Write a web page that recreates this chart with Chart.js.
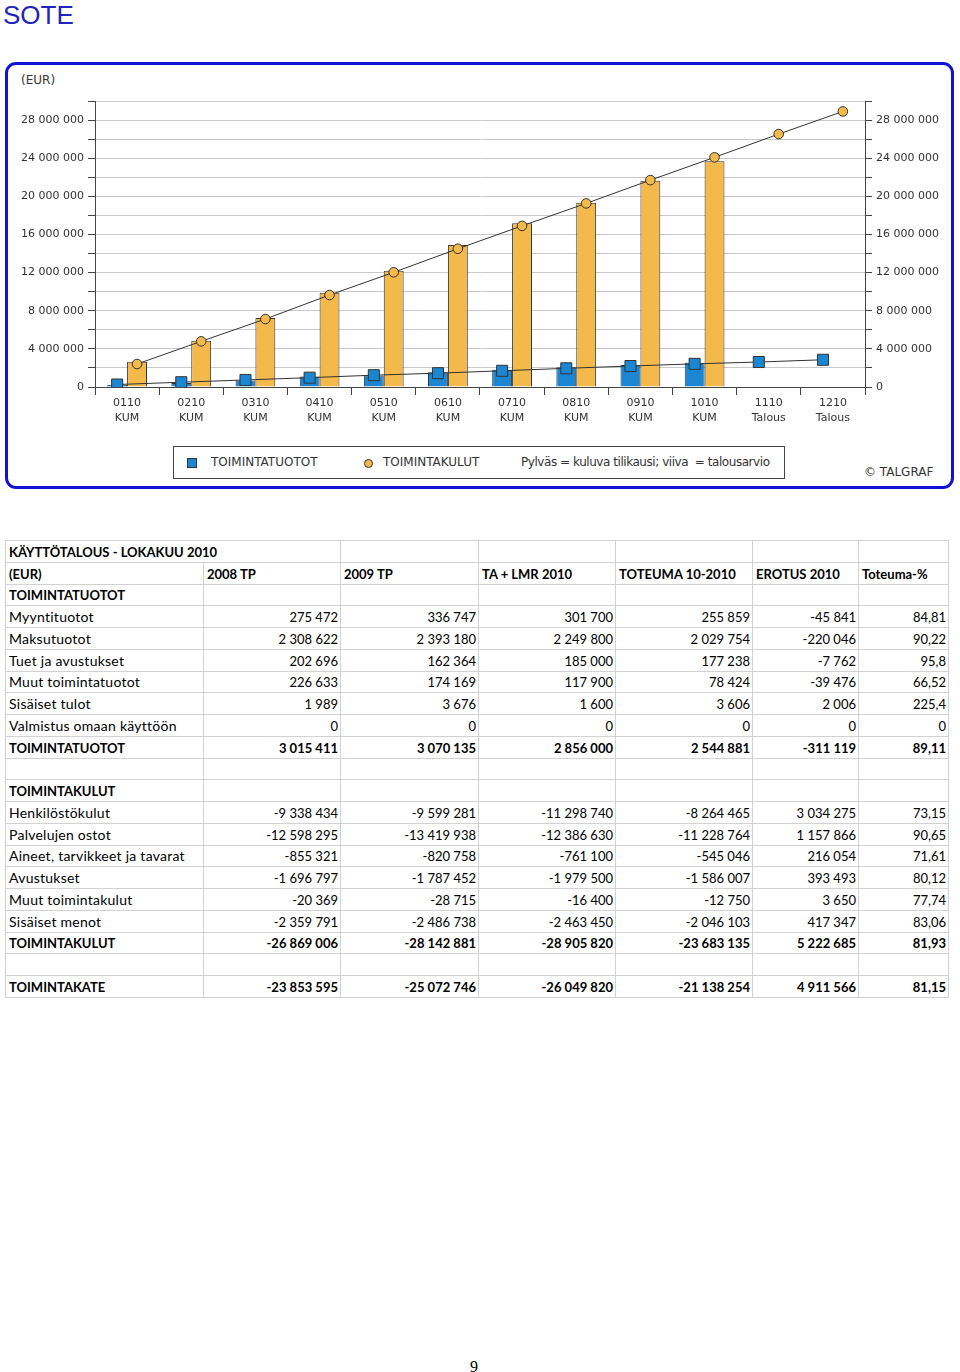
<!DOCTYPE html>
<html>
<head>
<meta charset="utf-8">
<script src="https://cdn.jsdelivr.net/npm/chart.js@4.4.0/dist/chart.umd.min.js"></script>
<style>
  body { margin:0; background:#fff; width:960px; height:1372px; position:relative; overflow:hidden; font-family:"DejaVu Sans", sans-serif; }
  #title { position:absolute; left:3px; top:0px; font:26px "Liberation Sans", Arial, sans-serif; color:#2323bd; }
  #frame { position:absolute; left:5px; top:62px; width:949px; height:427px; border:3px solid #1212d2; border-radius:11px; box-sizing:border-box; }
  #eur { position:absolute; left:21px; top:73px; font-size:12px; color:#333; }
  #wrap { position:absolute; left:0; top:90px; width:960px; height:340px; }
  #legend { position:absolute; left:173px; top:446px; width:612px; height:33px; border:1px solid #444; box-sizing:border-box; font-size:12px; color:#333; }
  #legend span { position:absolute; top:8px; white-space:pre; }
  #legend .mk { box-sizing:border-box; border:1px solid #333; }
  #copy { position:absolute; left:864px; top:465px; font-size:12px; color:#333; }
  table { position:absolute; left:5px; top:540px; border-collapse:collapse; table-layout:fixed; font-family:Lato, sans-serif; font-size:13px; color:#000; }
  td { border:1px solid #d2d2d2; height:18.75px; padding:0 2px 2px 3px; white-space:nowrap; overflow:hidden; line-height:16px; vertical-align:bottom; }
  td.t { font-size:14px; letter-spacing:0.25px; }
  td.n { text-align:right; }
  tr.b td { font-weight:bold; font-size:13px; letter-spacing:0; }
  #page { position:absolute; left:470px; top:1358px; font:16px "Liberation Serif", serif; }
</style>
</head>
<body>
<div id="title">SOTE</div>
<div id="frame"></div>
<div id="eur">(EUR)</div>
<div id="wrap"><canvas id="chart" width="960" height="340"></canvas></div>
<div id="legend"></div>
<div id="copy">© TALGRAF</div>
<table id="tbl"></table>
<div id="page">9</div>

<script>
// chart data (cumulative EUR per month)
const months = [["0110","KUM"],["0210","KUM"],["0310","KUM"],["0410","KUM"],["0510","KUM"],["0610","KUM"],
                ["0710","KUM"],["0810","KUM"],["0910","KUM"],["1010","KUM"],["1110","Talous"],["1210","Talous"]];
const tuototActual = [200000, 420000, 680000, 1100000, 1200000, 1550000, 1800000, 2080000, 2320000, 2545000, null, null];
const kulutActual = [2650000, 4860000, 7240000, 9890000, 12200000, 14900000, 17170000, 19330000, 21640000, 23683000, null, null];
const tuototBudget = [260000, 500000, 740000, 980000, 1240000, 1450000, 1700000, 1960000, 2200000, 2430000, 2620000, 2856000];
const kulutBudget = [2410000, 4790000, 7130000, 9650000, 12030000, 14500000, 16900000, 19260000, 21700000, 24090000, 26530000, 28906000];
const legendNames = ["TOIMINTATUOTOT", "TOIMINTAKULUT"];
const legendNote = "Pylväs = kuluva tilikausi; viiva  = talousarvio";

// table data
const tableTitle = "KÄYTTÖTALOUS - LOKAKUU 2010";
const tableHead = ["(EUR)", "2008 TP", "2009 TP", "TA + LMR 2010", "TOTEUMA 10-2010", "EROTUS 2010", "Toteuma-%"];
const tuototRows = [
  ["Myyntituotot", "275 472", "336 747", "301 700", "255 859", "-45 841", "84,81"],
  ["Maksutuotot", "2 308 622", "2 393 180", "2 249 800", "2 029 754", "-220 046", "90,22"],
  ["Tuet ja avustukset", "202 696", "162 364", "185 000", "177 238", "-7 762", "95,8"],
  ["Muut toimintatuotot", "226 633", "174 169", "117 900", "78 424", "-39 476", "66,52"],
  ["Sisäiset tulot", "1 989", "3 676", "1 600", "3 606", "2 006", "225,4"],
  ["Valmistus omaan käyttöön", "0", "0", "0", "0", "0", "0"]
];
const tuototTotal = ["TOIMINTATUOTOT", "3 015 411", "3 070 135", "2 856 000", "2 544 881", "-311 119", "89,11"];
const kulutRows = [
  ["Henkilöstökulut", "-9 338 434", "-9 599 281", "-11 298 740", "-8 264 465", "3 034 275", "73,15"],
  ["Palvelujen ostot", "-12 598 295", "-13 419 938", "-12 386 630", "-11 228 764", "1 157 866", "90,65"],
  ["Aineet, tarvikkeet ja tavarat", "-855 321", "-820 758", "-761 100", "-545 046", "216 054", "71,61"],
  ["Avustukset", "-1 696 797", "-1 787 452", "-1 979 500", "-1 586 007", "393 493", "80,12"],
  ["Muut toimintakulut", "-20 369", "-28 715", "-16 400", "-12 750", "3 650", "77,74"],
  ["Sisäiset menot", "-2 359 791", "-2 486 738", "-2 463 450", "-2 046 103", "417 347", "83,06"]
];
const kulutTotal = ["TOIMINTAKULUT", "-26 869 006", "-28 142 881", "-28 905 820", "-23 683 135", "5 222 685", "81,93"];
const kateTotal = ["TOIMINTAKATE", "-23 853 595", "-25 072 746", "-26 049 820", "-21 138 254", "4 911 566", "81,15"];

const blue = "#1b87d2";
const orange = "#f3b94b";
const dark = "#333333";

function fmt(v) {
  return String(v).replace(/\B(?=(\d{3})+(?!\d))/g, " ");
}

// move the budget line points onto the centre of the matching bar
const alignLines = {
  id: "alignLines",
  afterDatasetsUpdate(chart) {
    const b0 = chart.getDatasetMeta(0).data;
    const b1 = chart.getDatasetMeta(1).data;
    chart.getDatasetMeta(2).data.forEach((p, i) => { p.x = b0[i].x; });
    chart.getDatasetMeta(3).data.forEach((p, i) => { p.x = b1[i].x; });
  }
};

const tickFont = { family: "DejaVu Sans", size: 11 };
function yAxis(pos) {
  return {
    position: pos,
    min: 0,
    max: 30000000,
    ticks: {
      stepSize: 2000000,
      color: dark,
      font: tickFont,
      padding: 4,
      callback: v => (v % 4000000 === 0 && v < 30000000) ? fmt(v) : ""
    },
    grid: { color: "#c9c9c9", tickColor: "#444", tickLength: 7, drawOnChartArea: pos === "left" },
    border: { color: "#444" },
    afterFit: s => { s.width = 95; }
  };
}

new Chart(document.getElementById("chart"), {
  type: "bar",
  data: {
    labels: months,
    datasets: [
      { label: legendNames[0], data: tuototActual, backgroundColor: blue, borderColor: dark, borderWidth: 1, order: 1 },
      { label: legendNames[1], data: kulutActual, backgroundColor: orange, borderColor: dark, borderWidth: 1, order: 1 },
      { type: "line", label: legendNames[0], data: tuototBudget, borderColor: dark, borderWidth: 1,
        pointStyle: "rect", pointRadius: 7.8, pointBackgroundColor: blue, pointBorderColor: dark, pointBorderWidth: 1, order: 0 },
      { type: "line", label: legendNames[1], data: kulutBudget, borderColor: dark, borderWidth: 1,
        pointStyle: "circle", pointRadius: 4.8, pointBackgroundColor: orange, pointBorderColor: dark, pointBorderWidth: 1, order: 0 }
    ]
  },
  options: {
    responsive: false,
    animation: false,
    devicePixelRatio: 1,
    layout: { padding: { top: 11, left: 0, right: 0, bottom: 0 } },
    datasets: { bar: { categoryPercentage: 0.62, barPercentage: 1.0 } },
    plugins: { legend: { display: false }, tooltip: { enabled: false } },
    scales: {
      x: {
        grid: { offset: true, drawOnChartArea: false, tickLength: 8, tickColor: "#444" },
        border: { color: "#444" },
        ticks: { color: dark, font: { family: "DejaVu Sans", size: 11, lineHeight: 1.36 }, padding: 1, maxRotation: 0, autoSkip: false },
        afterFit: s => { s.height = 43; }
      },
      y: yAxis("left"),
      y2: yAxis("right")
    }
  },
  plugins: [alignLines]
});

// legend
const lg = document.getElementById("legend");
lg.innerHTML =
  '<span class="mk" style="left:13px;top:11px;width:10px;height:10px;background:' + blue + '"></span>' +
  '<span style="left:37px">' + legendNames[0] + '</span>' +
  '<span class="mk" style="left:190px;top:12px;width:9px;height:9px;border-radius:50%;background:' + orange + '"></span>' +
  '<span style="left:209px">' + legendNames[1] + '</span>' +
  '<span style="left:347px;letter-spacing:-0.45px">' + legendNote + '</span>';

// table
const widths = [198, 137, 138, 137, 137, 106, 90];
let html = "<colgroup>" + widths.map(w => '<col style="width:' + w + 'px">').join("") + "</colgroup>";
function row(cells, bold) {
  return '<tr' + (bold ? ' class="b"' : '') + '>' + cells.map((c, i) => '<td class="' + (i > 0 ? 'n' : 't') + '">' + c + '</td>').join("") + '</tr>';
}
function blank() { return '<tr>' + widths.map(() => '<td></td>').join("") + '</tr>'; }
function heading(text) { return '<tr class="b"><td>' + text + '</td>' + widths.slice(1).map(() => '<td></td>').join("") + '</tr>'; }
html += '<tr class="b"><td colspan="2">' + tableTitle + '</td>' + widths.slice(2).map(() => '<td></td>').join("") + '</tr>';
html += '<tr class="b">' + tableHead.map(c => '<td>' + c + '</td>').join("") + '</tr>';
html += heading(tuototTotal[0]);
tuototRows.forEach(r => { html += row(r, false); });
html += row(tuototTotal, true);
html += blank();
html += heading(kulutTotal[0]);
kulutRows.forEach(r => { html += row(r, false); });
html += row(kulutTotal, true);
html += blank();
html += row(kateTotal, true);
document.getElementById("tbl").innerHTML = html;
</script>
</body>
</html>
